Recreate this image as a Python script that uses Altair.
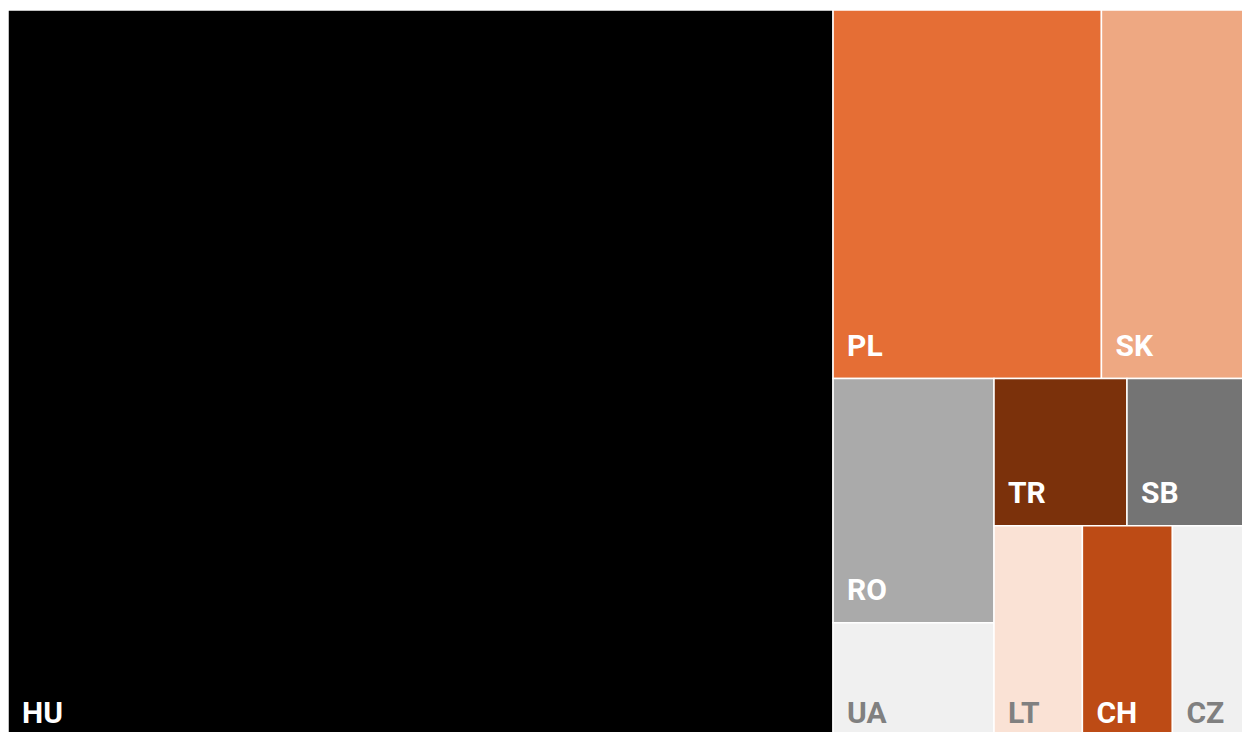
import altair as alt
import pandas as pd

# ---- data -------------------------------------------------------------
countries = ["HU", "PL", "SK", "RO", "UA", "TR", "SB", "LT", "CH", "CZ"]
shares = [66.43, 10.82, 5.99, 4.30, 2.17, 2.14, 1.98, 2.13, 2.17, 1.87]
fill_colors = ["#000000", "#e56e35", "#eea882", "#aaaaaa", "#f0f0f0",
               "#7b310b", "#747474", "#fae2d5", "#bd4b15", "#f0f0f0"]
label_colors = ["#ffffff", "#ffffff", "#ffffff", "#ffffff", "#808080",
                "#ffffff", "#ffffff", "#808080", "#ffffff", "#808080"]

# hierarchy of the treemap ("h" = split side by side, "v" = stacked)
tree = ("h", ["HU",
              ("v", [("h", ["PL", "SK"]),
                     ("h", [("v", ["RO", "UA"]),
                            ("v", [("h", ["TR", "SB"]),
                                   ("h", ["LT", "CH", "CZ"])])])])])

W, H = 1242, 736      # full layout extent; right and lower edges are cut off
VIS_W, VIS_H = 1234, 722   # visible part of the layout

value = dict(zip(countries, shares))


def total(node):
    if isinstance(node, str):
        return value[node]
    return sum(total(k) for k in node[1])


def layout(node, x0, y0, x1, y1, out):
    if isinstance(node, str):
        out[node] = (x0, y0, x1, y1)
        return
    d, kids = node
    t = total(node)
    pos = x0 if d == "h" else y0
    for k in kids:
        frac = total(k) / t
        if d == "h":
            w = (x1 - x0) * frac
            layout(k, pos, y0, pos + w, y1, out)
        else:
            w = (y1 - y0) * frac
            layout(k, x0, pos, x1, pos + w, out)
        pos += w


boxes = {}
layout(tree, 0, 0, W, H, boxes)

rows = []
for c, f, lc in zip(countries, fill_colors, label_colors):
    x0, y0, x1, y1 = boxes[c]
    rows.append(dict(country=c, share=value[c], x0=x0, y0=y0, x1=x1, y1=y1,
                     lx=x0 + 14, ly=y1 - 23, fill=f, lcol=lc))
df = pd.DataFrame(rows)

xs = alt.Scale(domain=[0, VIS_W], nice=False, zero=False)
ys = alt.Scale(domain=[0, VIS_H], nice=False, zero=False, reverse=True)

base = alt.Chart(df)
rects = base.mark_rect(stroke="white", strokeWidth=1.5, clip=True).encode(
    x=alt.X("x0:Q", scale=xs, axis=None),
    x2="x1:Q",
    y=alt.Y("y0:Q", scale=ys, axis=None),
    y2="y1:Q",
    color=alt.Color("fill:N", scale=None),
    tooltip=["country:N", "share:Q"],
)
labels = base.mark_text(align="left", baseline="alphabetic", font="Roboto",
                        fontWeight="bold", fontSize=30, clip=True).encode(
    x=alt.X("lx:Q", scale=xs, axis=None),
    y=alt.Y("ly:Q", scale=ys, axis=None),
    text="country:N",
    color=alt.Color("lcol:N", scale=None),
)

chart = alt.layer(rects, labels).properties(
    width=VIS_W, height=VIS_H,
    padding={"left": 0, "top": 2, "right": 0, "bottom": 0},
    autosize="none",
).configure_view(stroke=None)

chart.save("out.html", embed_options={"renderer": "svg", "actions": False})
